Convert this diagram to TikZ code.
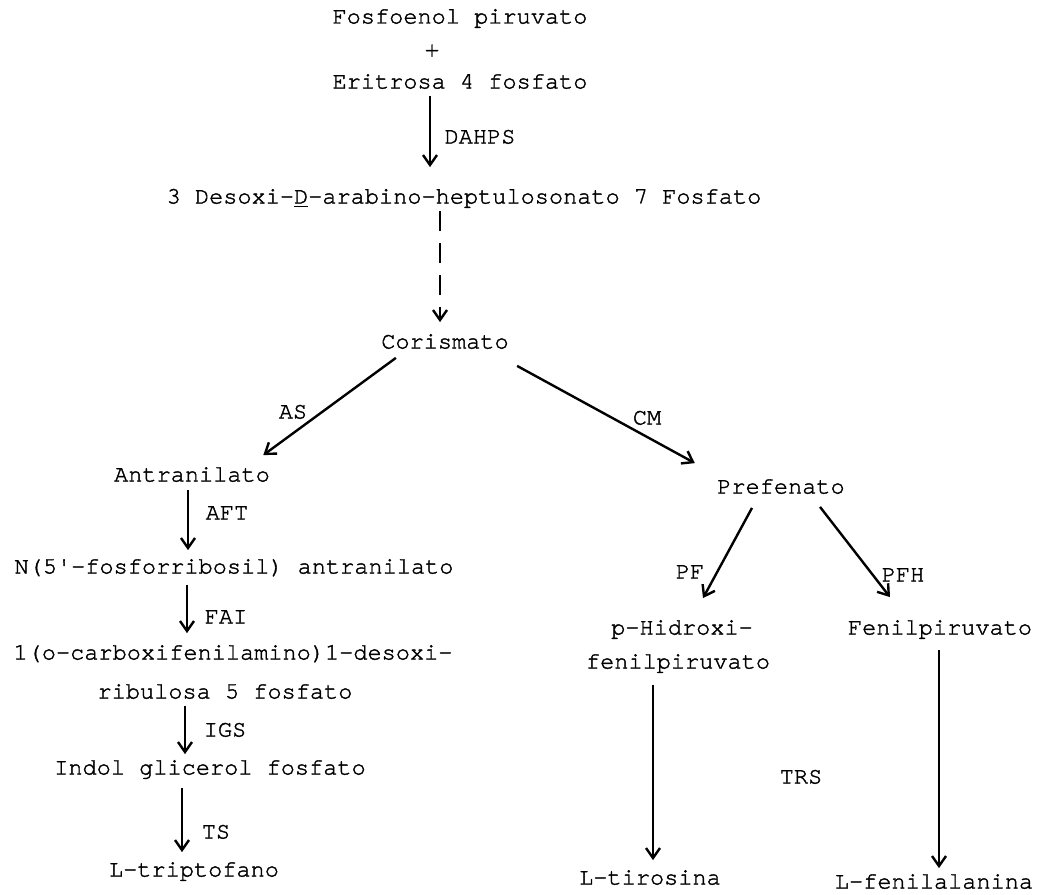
\documentclass[tikz,border=0pt]{standalone}
\usepackage{fontspec}
\setmonofont[FakeBold=1.6]{TeX Gyre Cursor}
\usetikzlibrary{arrows.meta}

\begin{document}
\begin{tikzpicture}[x=0.5pt,y=-0.5pt,
    every node/.style={font=\ttfamily\fontsize{11.8}{14}\selectfont,
      inner sep=1pt,text height=9pt,text depth=2.5pt},
    enzyme/.style={anchor=center},
    reac/.style={draw,line width=1.2pt,-{Straight Barb[length=5pt,width=7pt,line width=1.2pt]}}]
    \useasboundingbox (0,0) rectangle (1042,894);
    % metabolitos
    \node (fos)  at (460,17)  {Fosfoenol piruvato};
    \node (plus) at (432,50)  {+};
    \node (eri)  at (460,82)  {Eritrosa 4 fosfato};
    \node (dahp) at (464,197) {3 Desoxi-\underline{D}-arabino-heptulosonato 7 Fosfato};
    \node (cor)  at (445,342) {Corismato};
    \node (ant)  at (192,475) {Antranilato};
    \node (nfr)  at (234,567) {N(5'-fosforribosil) antranilato};
    \node (cfa1) at (233,653) {1(o-carboxifenilamino)1-desoxi-};
    \node (cfa2) at (225,692) {ribulosa 5 fosfato};
    \node (igp)  at (210,768) {Indol glicerol fosfato};
    \node (trp)  at (194,870) {L-triptofano};
    \node (pre)  at (781,487) {Prefenato};
    \node (phf1) at (682,628) {p-Hidroxi-};
    \node (phf2) at (678,662) {fenilpiruvato};
    \node (fpv)  at (940,628) {Fenilpiruvato};
    \node (tyr)  at (650,878) {L-tirosina};
    \node (phe)  at (934,882) {L-fenilalanina};
    % enzimas
    \node[enzyme] (dahps) at (480,137) {DAHPS};
    \node[enzyme] (as)    at (293,412) {AS};
    \node[enzyme] (cm)    at (647,418) {CM};
    \node[enzyme] (aft)   at (227,513) {AFT};
    \node[enzyme] (fai)   at (226,617) {FAI};
    \node[enzyme] (igs)   at (225,730) {IGS};
    \node[enzyme] (ts)    at (216,832) {TS};
    \node[enzyme] (pf)    at (690,572) {PF};
    \node[enzyme] (pfh)   at (903,575) {PFH};
    \node[enzyme] (trs)   at (801,777) {TRS};
    % reacciones
    \draw[reac,shorten >=8pt] ([xshift=-15pt]eri.south) -- ([xshift=-17pt]dahp.north);
    \draw[reac,dash pattern=on 10pt off 6pt,shorten >=3pt]
      ([xshift=-12pt]dahp.south) -- ([xshift=-2.5pt]cor.north);
    \draw[reac] ([xshift=8.5pt,yshift=-1pt]cor.south west) -- ([xshift=-4.5pt,yshift=3pt]ant.north east);
    \draw[reac] ([xshift=3pt,yshift=-5pt]cor.south east) -- ([xshift=-10pt,yshift=5pt]pre.north west);
    \draw[reac,shorten <=0.5pt,shorten >=1.5pt] ([xshift=-2pt]ant.south) -- ([xshift=-23pt]nfr.north);
    \draw[reac,shorten <=2pt,shorten >=3pt] ([xshift=-23.5pt]nfr.south) -- ([xshift=-23pt]cfa1.north);
    \draw[reac] ([xshift=-20pt]cfa2.south) -- ([xshift=-12.5pt]igp.north);
    \draw[reac,shorten <=3pt,shorten >=2pt] ([xshift=-14pt]igp.south) -- ([xshift=-6pt]trp.north);
    \draw[reac] ([xshift=-14.5pt,yshift=-3.5pt]pre.south) -- ([xshift=10.5pt,yshift=8pt]phf1.north);
    \draw[reac] ([xshift=19.5pt,yshift=-3pt]pre.south) -- ([xshift=-25pt,yshift=8.5pt]fpv.north);
    \draw[reac,shorten <=4.5pt,shorten >=2pt] ([xshift=-12.5pt]phf2.south) -- ([xshift=1.5pt]tyr.north);
    \draw[reac,shorten <=4pt] ([xshift=-0.5pt]fpv.south) -- ([xshift=2.5pt]phe.north);
\end{tikzpicture}
\end{document}
